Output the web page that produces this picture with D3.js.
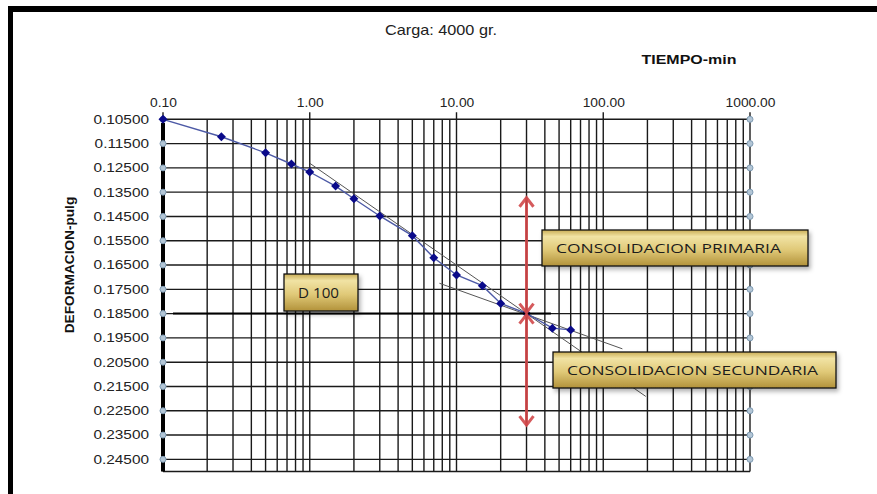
<!DOCTYPE html>
<html>
<head>
<meta charset="utf-8">
<script src="https://cdn.jsdelivr.net/npm/d3@7"></script>
<style>
html, body { margin: 0; padding: 0; background: #fff; }
svg { display: block; font-family: "Liberation Sans", Arial, sans-serif; }
</style>
</head>
<body>
<svg id="chart"></svg>
<script>
const width = 877;
const height = 494;

// Lecturas del ensayo de consolidacion (carga 4000 gr)
const tiempo = [0.1, 0.25, 0.5, 0.75, 1, 1.5, 2, 3, 5, 7, 10, 15, 20, 30, 45, 60];
const deformacion = [0.1050, 0.1122, 0.1188, 0.1234, 0.1267, 0.1325, 0.1377, 0.1448, 0.1529, 0.1620, 0.1691, 0.1735, 0.1808, 0.1849, 0.1910, 0.1917];

const xTicks = [0.1, 1, 10, 100, 1000];
const yTicks = [0.105, 0.115, 0.125, 0.135, 0.145, 0.155, 0.165, 0.175, 0.185, 0.195, 0.205, 0.215, 0.225, 0.235, 0.245];

// Construccion grafica
const tangentePrimaria = [[1.0, 0.1231], [195, 0.2191]];
const tangenteSecundaria = [[7.65, 0.1725], [135, 0.1995]];
const d100 = 0.185;
const d100Tramo = [0.117, 44];
const tiempoFlechas = 30;
const flechaPrimaria = [0.1369, 0.185];
const flechaSecundaria = [0.185, 0.2313];

const svg = d3.select("#chart")
    .attr("width", width)
    .attr("height", height);

const x = d3.scaleLog().domain([0.1, 1000]).range([163, 750]);
const y = d3.scaleLinear().domain([0.105, 0.25]).range([119.3, 471.5]);

// stretch text horizontally (the picture is a bit wide)
function stretch(sel, k) {
    sel.each(function () {
        const w = this.getComputedTextLength();
        d3.select(this).attr("textLength", w * k).attr("lengthAdjust", "spacingAndGlyphs");
    });
}

// Defs: gradient + shadow for the callout boxes
const defs = svg.append("defs");
const grad = defs.append("linearGradient")
    .attr("id", "oro")
    .attr("x1", 0).attr("y1", 0).attr("x2", 0).attr("y2", 1);
grad.append("stop").attr("offset", "0%").attr("stop-color", "#c9ad55");
grad.append("stop").attr("offset", "18%").attr("stop-color", "#f1e3a4");
grad.append("stop").attr("offset", "55%").attr("stop-color", "#e0c978");
grad.append("stop").attr("offset", "100%").attr("stop-color", "#b2923a");

const shadow = defs.append("filter").attr("id", "sombra")
    .attr("x", "-10%").attr("y", "-20%").attr("width", "130%").attr("height", "160%");
shadow.append("feDropShadow")
    .attr("dx", 2).attr("dy", 3).attr("stdDeviation", 2)
    .attr("flood-color", "#000").attr("flood-opacity", 0.3);

// Outer frame (top and left)
svg.append("rect").attr("x", 8).attr("y", 6).attr("width", width - 8).attr("height", 6).attr("fill", "#000");
svg.append("rect").attr("x", 8).attr("y", 6).attr("width", 5).attr("height", height - 6).attr("fill", "#000");

// Titles
svg.append("text")
    .attr("x", 441).attr("y", 35)
    .attr("text-anchor", "middle")
    .style("font-size", "14.5px")
    .style("fill", "#222")
    .text("Carga: 4000 gr.")
    .call(stretch, 1.12);

svg.append("text")
    .attr("x", 689).attr("y", 64)
    .attr("text-anchor", "middle")
    .style("font-size", "12px")
    .style("font-weight", "bold")
    .style("fill", "#111")
    .text("TIEMPO-min")
    .call(stretch, 1.33);

svg.append("text")
    .attr("transform", "translate(74,265) rotate(-90)")
    .attr("text-anchor", "middle")
    .style("font-size", "13px")
    .style("font-weight", "bold")
    .style("fill", "#111")
    .text("DEFORMACION-pulg")
    .call(stretch, 1.05);

// Grid
const grid = svg.append("g");

grid.selectAll(".vline")
    .data(x.ticks())
    .enter().append("line")
    .attr("class", "vline")
    .attr("x1", d => x(d)).attr("x2", d => x(d))
    .attr("y1", d => xTicks.includes(d) ? y.range()[0] - 7 : y.range()[0])
    .attr("y2", y.range()[1])
    .attr("stroke", "#1a1a1a")
    .attr("stroke-width", 1.4);

grid.selectAll(".hline")
    .data(yTicks.concat([0.25]))
    .enter().append("line")
    .attr("class", "hline")
    .attr("x1", x(0.1)).attr("x2", x(1000))
    .attr("y1", d => y(d)).attr("y2", d => y(d))
    .attr("stroke", "#1a1a1a")
    .attr("stroke-width", 1.4);

// Thick left axis
svg.append("line")
    .attr("x1", x(0.1)).attr("x2", x(0.1))
    .attr("y1", y(0.1065)).attr("y2", y.range()[1])
    .attr("stroke", "#000")
    .attr("stroke-width", 4);

// Axes labels
const xAxis = svg.append("g")
    .attr("transform", `translate(0,${y.range()[0] - 9})`)
    .call(d3.axisTop(x).tickValues(xTicks).tickFormat(d3.format(".2f")).tickSize(0));
xAxis.select(".domain").remove();
xAxis.selectAll("text")
    .style("font-size", "12px")
    .style("font-family", "'Liberation Sans', Arial, sans-serif")
    .style("fill", "#222")
    .call(stretch, 1.15);

const yAxis = svg.append("g")
    .attr("transform", `translate(${x(0.1) - 6},0)`)
    .call(d3.axisLeft(y).tickValues(yTicks).tickFormat(d3.format(".5f")).tickSize(0));
yAxis.select(".domain").remove();
yAxis.selectAll("text")
    .attr("x", -8)
    .style("font-size", "12px")
    .style("font-family", "'Liberation Sans', Arial, sans-serif")
    .style("fill", "#222")
    .call(stretch, 1.28);

// Small axis markers on both sides
const marcas = svg.append("g");
[0.1, 1000].forEach(t => {
    marcas.selectAll(null)
        .data(yTicks)
        .enter().append("circle")
        .attr("cx", x(t))
        .attr("cy", d => y(d))
        .attr("r", 3)
        .attr("fill", "#b3c6d6")
        .attr("stroke", "#7f9bb3")
        .attr("stroke-width", 1);
});

// Construction lines
const linea = d3.line().x(d => x(d[0])).y(d => y(d[1]));

svg.append("path")
    .datum(tangentePrimaria)
    .attr("d", linea)
    .attr("fill", "none")
    .attr("stroke", "#555")
    .attr("stroke-width", 1);

svg.append("path")
    .datum(tangenteSecundaria)
    .attr("d", linea)
    .attr("fill", "none")
    .attr("stroke", "#555")
    .attr("stroke-width", 1);

// Data curve
const puntos = tiempo.map((t, i) => [t, deformacion[i]]);

svg.append("path")
    .datum(puntos)
    .attr("d", linea)
    .attr("fill", "none")
    .attr("stroke", "#4d5aa6")
    .attr("stroke-width", 1.4);

svg.selectAll(".punto")
    .data(puntos)
    .enter().append("path")
    .attr("class", "punto")
    .attr("d", d3.symbol(d3.symbolSquare, 40))
    .attr("transform", d => `translate(${x(d[0])},${y(d[1])}) rotate(45)`)
    .attr("fill", "#0a0a8a");

// D100 line
svg.append("line")
    .attr("x1", x(d100Tramo[0])).attr("x2", x(d100Tramo[1]))
    .attr("y1", y(d100)).attr("y2", y(d100))
    .attr("stroke", "#000")
    .attr("stroke-width", 2);

// Red double arrows
function flecha(tramo) {
    const xa = x(tiempoFlechas);
    const y1 = y(tramo[0]);
    const y2 = y(tramo[1]);
    const g = svg.append("g")
        .attr("fill", "none")
        .attr("stroke", "#d0484a")
        .attr("stroke-width", 3)
        .attr("stroke-opacity", 0.9);
    g.append("line").attr("x1", xa).attr("x2", xa).attr("y1", y1 + 1).attr("y2", y2 - 1);
    g.append("path").attr("d", `M${xa - 7},${y1 + 10}L${xa},${y1 + 1}L${xa + 7},${y1 + 10}`);
    g.append("path").attr("d", `M${xa - 7},${y2 - 10}L${xa},${y2 - 1}L${xa + 7},${y2 - 10}`);
}
flecha(flechaPrimaria);
flecha(flechaSecundaria);

// Callout boxes
function caja(x0, y0, w, h, texto, tx, tw, fs) {
    const g = svg.append("g");
    g.append("rect")
        .attr("x", x0).attr("y", y0)
        .attr("width", w).attr("height", h)
        .attr("fill", "url(#oro)")
        .attr("stroke", "#111")
        .attr("stroke-width", 1.3)
        .attr("filter", "url(#sombra)");
    g.append("text")
        .attr("x", tx).attr("y", y0 + h / 2 + 5)
        .attr("textLength", tw)
        .attr("lengthAdjust", "spacingAndGlyphs")
        .style("font-family", "'Open Sans', sans-serif")
        .style("font-size", fs + "px")
        .style("fill", "#1c1c1c")
        .text(texto);
}
caja(284, 274, 74, 37, "D 100", 298, 41, 14);
caja(542, 230, 266, 36, "CONSOLIDACION PRIMARIA", 556, 225, 13.5);
caja(553, 352, 283, 36, "CONSOLIDACION SECUNDARIA", 567, 251, 13.5);
</script>
</body>
</html>
